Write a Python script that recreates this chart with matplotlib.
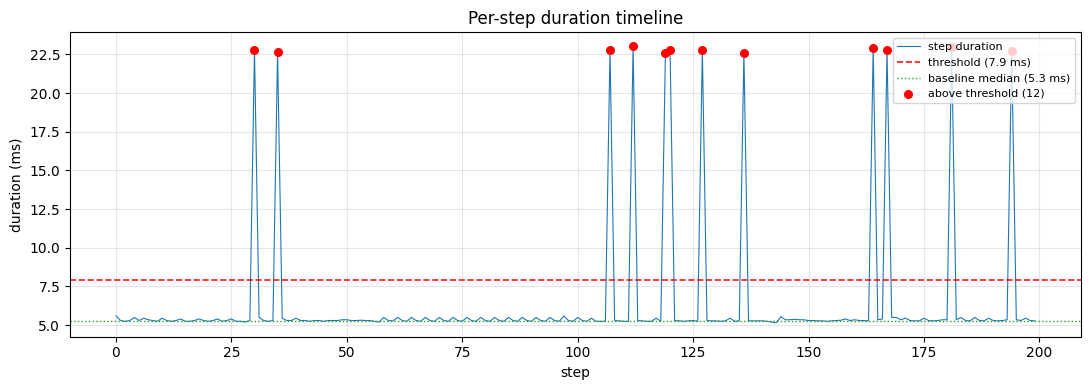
import matplotlib
matplotlib.use("Agg")
import matplotlib.pyplot as plt
import numpy as np

steps = list(range(200))
durations = [
    5.60, 5.30, 5.25, 5.30, 5.50, 5.30, 5.45, 5.35, 5.30, 5.25,   # 0-9
    5.45, 5.30, 5.25, 5.30, 5.40, 5.25, 5.25, 5.30, 5.40, 5.30,   # 10-19
    5.25, 5.30, 5.40, 5.25, 5.30, 5.40, 5.25, 5.25, 5.20, 5.30,   # 20-29
    22.78, 5.50, 5.30, 5.25, 5.30, 22.63, 5.45, 5.30, 5.30, 5.45, # 30-39
    5.30, 5.30, 5.25, 5.30, 5.30, 5.25, 5.30, 5.30, 5.30, 5.35,   # 40-49
    5.35, 5.30, 5.30, 5.32, 5.30, 5.30, 5.25, 5.20, 5.50, 5.30,   # 50-59
    5.28, 5.50, 5.30, 5.25, 5.50, 5.30, 5.25, 5.50, 5.30, 5.25,   # 60-69
    5.50, 5.30, 5.25, 5.50, 5.30, 5.25, 5.50, 5.30, 5.25, 5.50,   # 70-79
    5.30, 5.25, 5.50, 5.30, 5.25, 5.50, 5.30, 5.25, 5.50, 5.30,   # 80-89
    5.25, 5.50, 5.30, 5.25, 5.50, 5.30, 5.25, 5.60, 5.30, 5.25,   # 90-99
    5.50, 5.30, 5.25, 5.45, 5.25, 5.25, 5.25, 22.78, 5.30, 5.28,  # 100-109
    5.25, 5.25, 23.03, 5.30, 5.28, 5.25, 5.25, 5.45, 5.25, 22.60, # 110-119
    22.78, 5.30, 5.28, 5.25, 5.28, 5.30, 5.25, 22.78, 5.30, 5.28, # 120-129
    5.28, 5.25, 5.28, 5.45, 5.25, 5.28, 22.57, 5.28, 5.28, 5.28,  # 130-139
    5.28, 5.25, 5.20, 5.15, 5.55, 5.35, 5.35, 5.38, 5.35, 5.35,   # 140-149
    5.30, 5.30, 5.28, 5.28, 5.25, 5.28, 5.30, 5.32, 5.40, 5.30,   # 150-159
    5.35, 5.30, 5.30, 5.28, 22.90, 5.35, 5.40, 22.78, 5.50, 5.50, # 160-169
    5.35, 5.45, 5.30, 5.28, 5.28, 5.45, 5.30, 5.28, 5.30, 5.35,   # 170-179
    5.35, 23.00, 5.35, 5.50, 5.30, 5.28, 5.50, 5.30, 5.28, 5.45,  # 180-189
    5.30, 5.28, 5.30, 5.35, 22.70, 5.35, 5.30, 5.45, 5.30, 5.28,  # 190-199
]
threshold = 7.9
baseline_median = 5.3

x = np.array(steps)
y = np.array(durations)
mask = y > threshold

fig, ax = plt.subplots(figsize=(10.89, 3.9), dpi=100)
fig.subplots_adjust(left=0.0643, right=0.9924, top=0.9172, bottom=0.1367)
ax.plot(x, y, color="#1f77b4", linewidth=0.8, label="step duration")
ax.axhline(threshold, color="red", linestyle="--", linewidth=1.2, alpha=0.9,
           label=f"threshold ({threshold:.1f} ms)")
ax.axhline(baseline_median, color="#1aa81a", linestyle=":", linewidth=1.0,
           label=f"baseline median ({baseline_median:.1f} ms)")
ax.scatter(x[mask], y[mask], color="red", s=30, zorder=3,
           label=f"above threshold ({int(mask.sum())})")
ax.set_title("Per-step duration timeline")
ax.set_xlabel("step")
ax.set_ylabel("duration (ms)")
ax.grid(True, alpha=0.3)
ax.legend(loc="upper right", fontsize=8)
fig.savefig("out.png", dpi=100)
